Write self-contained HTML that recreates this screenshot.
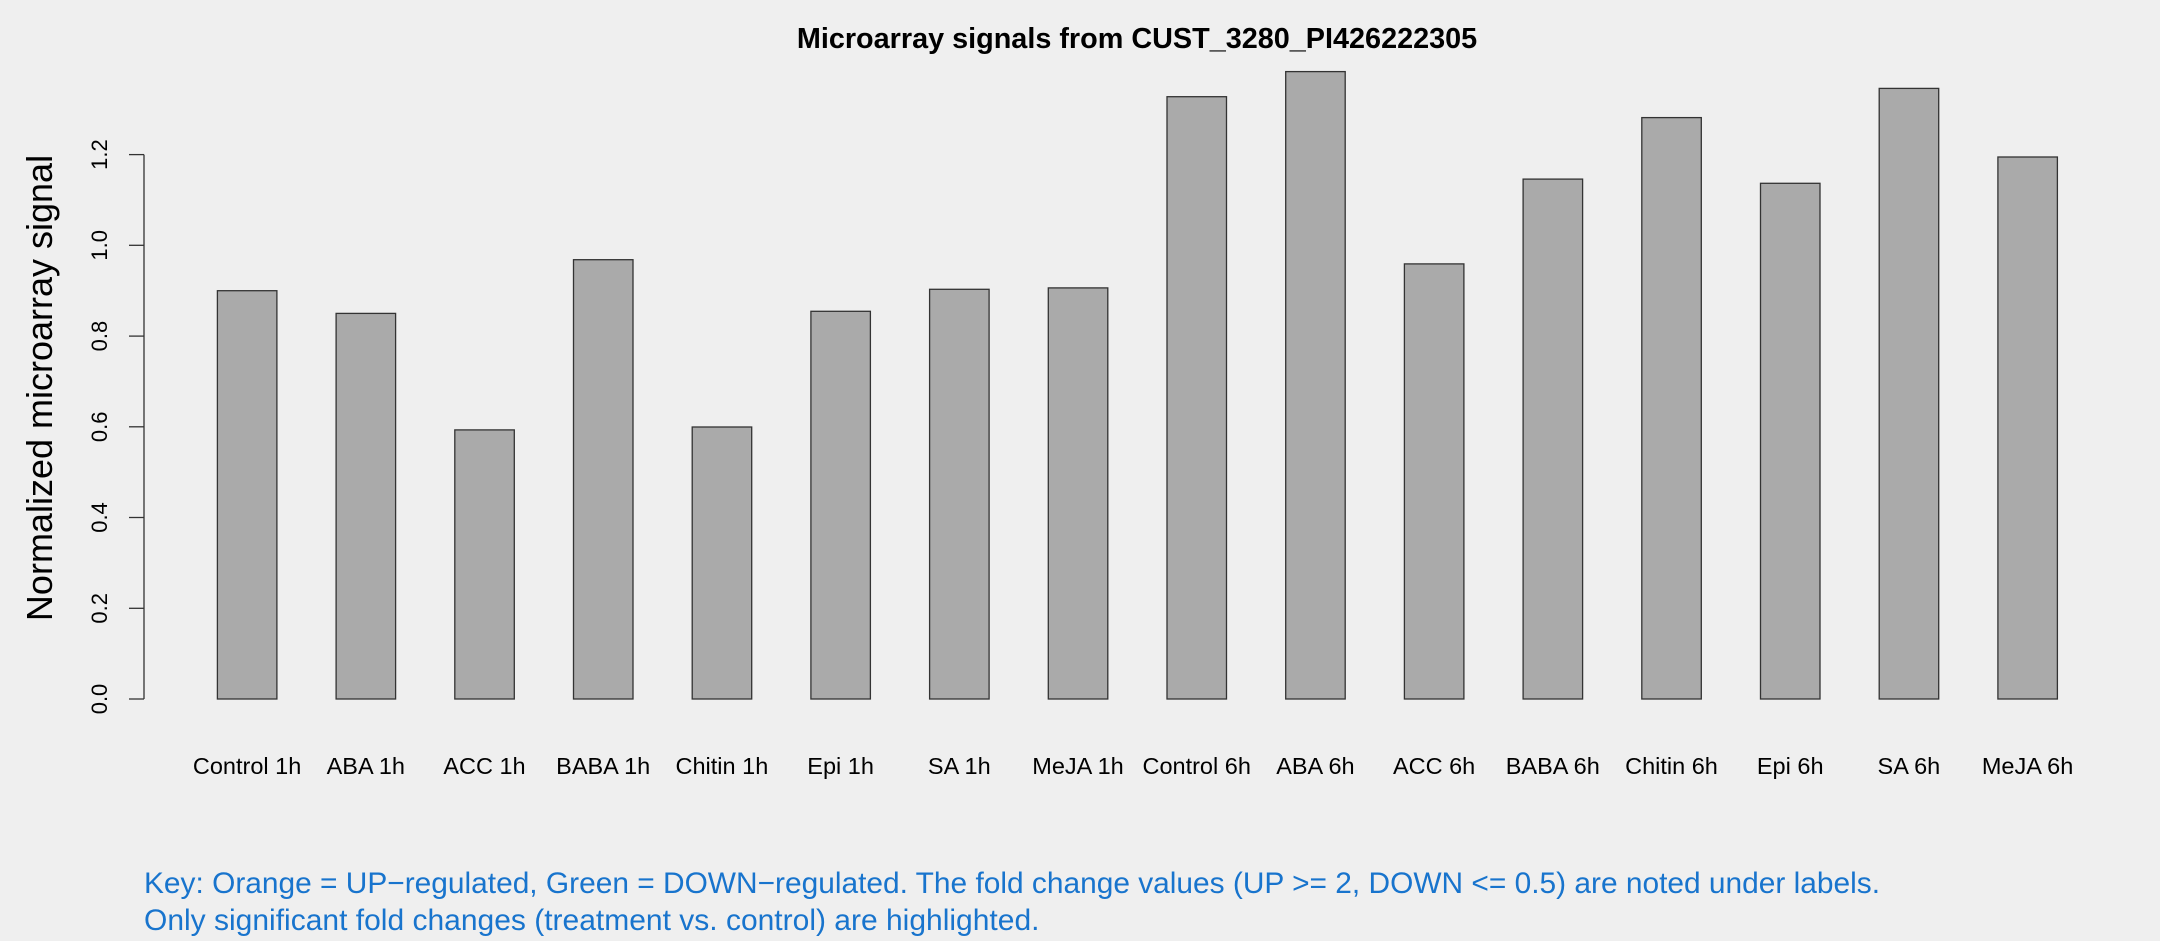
<!DOCTYPE html>
<html><head><meta charset="utf-8"><style>html,body{margin:0;padding:0;background:#efefef;}</style></head>
<body>
<svg width="2160" height="936" xmlns="http://www.w3.org/2000/svg" font-family="Liberation Sans, sans-serif">
<rect width="2160" height="936" fill="#efefef"/>
<text x="1137" y="48" font-size="28.8" font-weight="bold" text-anchor="middle">Microarray signals from CUST_3280_PI426222305</text>
<g stroke="#333" stroke-width="1.3" fill="none">
<line x1="144" y1="154.6" x2="144" y2="699"/>
<line x1="129" y1="699" x2="144" y2="699"/>
<line x1="129" y1="608.3" x2="144" y2="608.3"/>
<line x1="129" y1="517.5" x2="144" y2="517.5"/>
<line x1="129" y1="426.8" x2="144" y2="426.8"/>
<line x1="129" y1="336.1" x2="144" y2="336.1"/>
<line x1="129" y1="245.3" x2="144" y2="245.3"/>
<line x1="129" y1="154.6" x2="144" y2="154.6"/>
</g>
<g font-size="22" text-anchor="middle">
<text transform="translate(107,699) rotate(-90)">0.0</text>
<text transform="translate(107,608.3) rotate(-90)">0.2</text>
<text transform="translate(107,517.5) rotate(-90)">0.4</text>
<text transform="translate(107,426.8) rotate(-90)">0.6</text>
<text transform="translate(107,336.1) rotate(-90)">0.8</text>
<text transform="translate(107,245.3) rotate(-90)">1.0</text>
<text transform="translate(107,154.6) rotate(-90)">1.2</text>
</g>
<text transform="translate(52,388) rotate(-90)" font-size="36" text-anchor="middle">Normalized microarray signal</text>
<g fill="#aaaaaa" stroke="#333" stroke-width="1.3">
<rect x="217.4" y="290.7" width="59.5" height="408.3"/>
<rect x="336.1" y="313.4" width="59.5" height="385.6"/>
<rect x="454.8" y="429.9" width="59.5" height="269.1"/>
<rect x="573.5" y="259.7" width="59.5" height="439.3"/>
<rect x="692.2" y="427" width="59.5" height="272"/>
<rect x="810.9" y="311.3" width="59.5" height="387.7"/>
<rect x="929.6" y="289.3" width="59.5" height="409.7"/>
<rect x="1048.3" y="287.9" width="59.5" height="411.1"/>
<rect x="1167" y="96.7" width="59.5" height="602.3"/>
<rect x="1285.7" y="71.6" width="59.5" height="627.4"/>
<rect x="1404.4" y="263.9" width="59.5" height="435.1"/>
<rect x="1523.1" y="179.1" width="59.5" height="519.9"/>
<rect x="1641.8" y="117.6" width="59.5" height="581.4"/>
<rect x="1760.5" y="183.3" width="59.5" height="515.7"/>
<rect x="1879.2" y="88.4" width="59.5" height="610.6"/>
<rect x="1997.9" y="157" width="59.5" height="542"/>
</g>
<g font-size="23.5" text-anchor="middle">
<text x="247.1" y="774">Control 1h</text>
<text x="365.8" y="774">ABA 1h</text>
<text x="484.5" y="774">ACC 1h</text>
<text x="603.2" y="774">BABA 1h</text>
<text x="721.9" y="774">Chitin 1h</text>
<text x="840.6" y="774">Epi 1h</text>
<text x="959.3" y="774">SA 1h</text>
<text x="1078" y="774">MeJA 1h</text>
<text x="1196.7" y="774">Control 6h</text>
<text x="1315.4" y="774">ABA 6h</text>
<text x="1434.1" y="774">ACC 6h</text>
<text x="1552.8" y="774">BABA 6h</text>
<text x="1671.5" y="774">Chitin 6h</text>
<text x="1790.2" y="774">Epi 6h</text>
<text x="1908.9" y="774">SA 6h</text>
<text x="2027.6" y="774">MeJA 6h</text>
</g>
<g font-size="30" fill="#1874cd">
<text x="144" y="893" textLength="1736" lengthAdjust="spacingAndGlyphs">Key: Orange = UP−regulated, Green = DOWN−regulated. The fold change values (UP &gt;= 2, DOWN &lt;= 0.5) are noted under labels.</text>
<text x="144" y="930">Only significant fold changes (treatment vs. control) are highlighted.</text>
</g>
</svg>
</body></html>
